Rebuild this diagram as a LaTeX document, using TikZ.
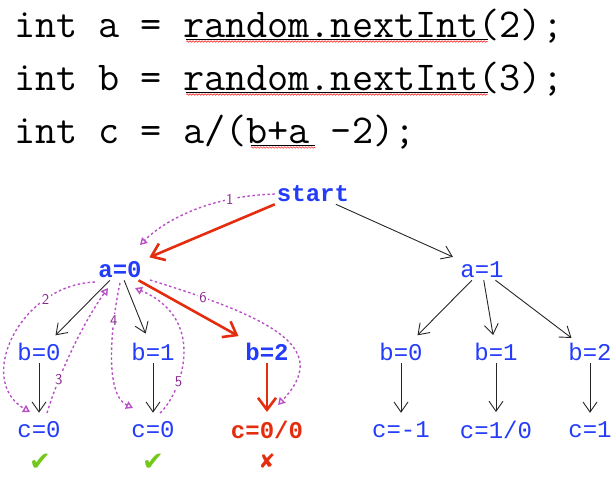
\documentclass[tikz,border=0pt]{standalone}
\usepackage{fontspec}
\usepackage{tikz}
\usetikzlibrary{arrows.meta,calc,decorations.pathmorphing}
\newfontfamily\graphfont{Liberation Mono}
\newfontfamily\markfont{DejaVu Sans}
\definecolor{nodeblue}{RGB}{35,60,250}
\definecolor{hotred}{RGB}{228,45,15}
\definecolor{tracepurple}{RGB}{185,80,200}
\definecolor{numpurple}{RGB}{135,40,140}
\definecolor{okgreen}{RGB}{115,200,25}
\def\cw{21.525}

\begin{document}
\begin{tikzpicture}[x=1pt,y=-1pt,
  code/.style={anchor=base west,inner sep=0pt,font=\ttfamily\fontsize{41}{41}\selectfont},
  val/.style={text=nodeblue,inner sep=2pt,font=\graphfont\fontsize{24}{24}\selectfont},
  hotval/.style={val,font=\graphfont\bfseries\fontsize{24}{24}\selectfont},
  branch/.style={-{Straight Barb[length=10pt,width=14pt]},black!85,line width=0.9pt,shorten >=7pt},
  hotbranch/.style={-{Straight Barb[length=12pt,width=18pt]},hotred,line width=2.6pt,shorten >=6pt},
  visit/.style={-{Triangle[open,length=7pt,width=8pt]},tracepurple,line width=1.4pt,dash pattern=on 2.5pt off 2.5pt},
  stepnum/.style={text=numpurple,fill=white,inner sep=1.5pt,font=\sffamily\fontsize{15}{15}\selectfont},
  verdict/.style={inner sep=0pt,font=\markfont\fontsize{26}{26}\selectfont},
  spell/.style={red!80,line width=0.6pt,decorate,decoration={snake,amplitude=0.8pt,segment length=3pt}}]
  \useasboundingbox (0,0) rectangle (616,477);

  \node[code] (line1) at (14,37) {int a = random.nextInt(2);};
  \node[code] (line2) at (14,90) {int b = random.nextInt(3);};
  \node[code] (line3) at (14,143) {int c = a/(b+a -2);};
  \foreach \l in {line1,line2}
  {
    \draw[line width=0.8pt] ($(\l.base west)+(8*\cw,2)$) -- ++(14*\cw,0);
    \draw[spell] ($(\l.base west)+(8*\cw,4.5)$) -- ++(14*\cw,0);
  }
  \draw[line width=0.8pt] ($(line3.base west)+(11*\cw,2)$) -- ++(3*\cw,0);
  \draw[spell] ($(line3.base west)+(11*\cw,4.5)$) -- ++(3*\cw,0);

  \node[hotval] (start) at (313,194) {start};
  \node[hotval] (a0) at (120,270) {a=0};
  \node[val] (a1) at (482,270) {a=1};
  \node[val] (b0) at (39,352) {b=0};
  \node[val] (b1) at (153,352) {b=1};
  \node[hotval] (b2) at (267,352) {b=2};
  \node[val] (c0) at (39,430) {c=0};
  \node[val] (c1) at (153,430) {c=0};
  \node[hotval,text=hotred] (c2) at (267,430) {c=0/0};
  \node[val] (b0r) at (401,352) {b=0};
  \node[val] (b1r) at (496,352) {b=1};
  \node[val] (b2r) at (590,352) {b=2};
  \node[val] (c0r) at (401,430) {c=-1};
  \node[val] (c1r) at (496,430) {c=1/0};
  \node[val] (c2r) at (590,430) {c=1};
  \node[verdict,text=okgreen] (ok0) at (40,462) {✔};
  \node[verdict,text=okgreen] (ok1) at (153,462) {✔};
  \node[verdict,text=hotred,font=\markfont\fontsize{20}{20}\selectfont] (bad) at (267,461) {✘};

  \draw[hotbranch] (start.south west) -- (a0.north east);
  \draw[branch] (start) -- (a1);
  \draw[branch,shorten >=8pt] (a0) -- (b0);
  \draw[branch,shorten >=8pt] (a0) -- (b1);
  \draw[hotbranch,shorten >=10pt] (a0) -- (b2);
  \draw[branch] (b0) -- (c0);
  \draw[branch] (b1) -- (c1);
  \draw[hotbranch,shorten >=7pt] (b2) -- (c2);
  \draw[branch,shorten >=8pt] (a1) -- (b0r);
  \draw[branch,shorten >=6pt] (a1) -- (b1r);
  \draw[branch,shorten >=5pt] (a1) -- (b2r);
  \foreach \b/\c in {b0r/c0r,b1r/c1r,b2r/c2r}
    \draw[branch] (\b) -- (\c);

  \draw[visit] (start.west) .. controls +(-65,2) and +(25,-25) .. ($(a0)+(20,-25)$) node[stepnum,pos=0.25] {1};
  \draw[visit] ($(a0)+(-25,12)$) .. controls +(-75,3) and +(-55,-32) .. ($(c0)+(-9,-18)$) node[stepnum,pos=0.25] {2};
  \draw[visit] ($(c0)+(8,-17)$) .. controls +(13,-43) and +(-23,32) .. ($(a0)+(-12,18)$) node[stepnum,pos=0.25] {3};
  \draw[visit] ($(a0)+(0,13)$) .. controls +(-10,47) and +(-28,-13) .. ($(c1)+(-20,-22)$) node[stepnum,pos=0.25] {4};
  \draw[visit] ($(c1)+(7,-17)$) .. controls +(20,-18) and +(75,32) .. ($(a0)+(15,18)$) node[stepnum,pos=0.32] {5};
  \draw[visit] ($(a0)+(30,10)$) .. controls +(130,40) and +(52,-55) .. ($(c2)+(11,-25)$) node[stepnum,pos=0.15] {6};
\end{tikzpicture}
\end{document}
